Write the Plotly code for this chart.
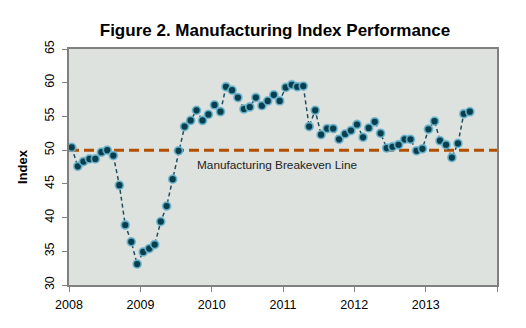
import plotly.graph_objects as go
import pandas as pd

# Monthly manufacturing index, Jan 2008 - Aug 2013
index_values = [
    50.4, 47.6, 48.3, 48.7, 48.7, 49.7, 50.0, 49.2, 44.8, 38.9, 36.4, 33.1,   # 2008
    34.9, 35.4, 36.0, 39.4, 41.7, 45.7, 49.9, 53.5, 54.4, 55.9, 54.4, 55.3,   # 2009
    56.7, 55.7, 59.4, 58.9, 57.8, 56.1, 56.4, 57.8, 56.6, 57.3, 58.2, 57.3,   # 2010
    59.3, 59.7, 59.4, 59.5, 53.5, 55.9, 52.3, 53.2, 53.2, 51.6, 52.4, 52.9,   # 2011
    53.8, 51.9, 53.3, 54.2, 52.5, 50.3, 50.5, 50.8, 51.6, 51.6, 49.9, 50.2,   # 2012
    53.1, 54.3, 51.4, 50.8, 48.9, 51.0, 55.4, 55.7,                           # 2013
]
months = pd.date_range("2008-01-01", periods=len(index_values), freq="MS") + pd.Timedelta(days=14)

breakeven_value = 50
breakeven_x = ["2008-01-01", "2014-01-01"]
breakeven_label = "Manufacturing Breakeven Line"

year_ticks = ["2008-01-01", "2009-01-01", "2010-01-01", "2011-01-01", "2012-01-01", "2013-01-01", "2014-01-01"]
year_labels = ["2008", "2009", "2010", "2011", "2012", "2013", ""]
y_ticks = [30, 35, 40, 45, 50, 55, 60, 65]

fig = go.Figure()

fig.add_trace(go.Scatter(
    x=breakeven_x, y=[breakeven_value] * 2, mode="lines",
    line=dict(color="#B34F00", width=3, dash="10px,5px"),
    hoverinfo="skip", showlegend=False,
))

fig.add_trace(go.Scatter(
    x=months, y=index_values, mode="lines+markers",
    line=dict(color="#1D4F5E", width=1.5, dash="4px,3px"),
    marker=dict(size=8, color="#073F4E", line=dict(color="rgba(110,185,210,0.85)", width=1.8)),
    showlegend=False,
))

fig.add_annotation(
    x="2009-10-06", y=47.8, xref="x", yref="y", text=breakeven_label,
    showarrow=False, xanchor="left", yanchor="middle",
    font=dict(family="Arial, Liberation Sans", size=11.8, color="#222222"),
)

fig.add_annotation(
    x=(22 - 69) / 428, y=0.5, xref="paper", yref="paper",
    text="<b>Index</b>", showarrow=False, textangle=-90,
    xanchor="center", yanchor="middle",
    font=dict(family="Arial, Liberation Sans", size=13, color="#000000"),
)

fig.update_layout(
    width=526, height=328,
    margin=dict(l=69, r=29, t=49, b=43),
    paper_bgcolor="white", plot_bgcolor="#DEE2DF",
    title=dict(
        text="<b>Figure 2. Manufacturing Index Performance</b>",
        x=275 / 526, xanchor="center", y=1 - 30 / 328, yanchor="middle",
        font=dict(family="Arial, Liberation Sans", size=17, color="#000000"),
    ),
    xaxis=dict(
        type="date", range=["2008-01-01", "2014-01-01"],
        tickvals=year_ticks, ticktext=year_labels,
        showgrid=False, zeroline=False,
        showline=True, linecolor="#808080", linewidth=2, mirror=True,
        ticks="outside", ticklen=5, tickcolor="#808080", tickwidth=1,
        ticklabelstandoff=2,
        tickfont=dict(family="Arial, Liberation Sans", size=12.5, color="#000000"),
    ),
    yaxis=dict(
        range=[30, 65], tickvals=y_ticks,
        showgrid=False, zeroline=False,
        showline=True, linecolor="#808080", linewidth=2, mirror=True,
        ticks="outside", ticklen=5, tickcolor="#808080", tickwidth=1,
        tickangle=-90, ticklabelstandoff=3,
        tickfont=dict(family="Arial, Liberation Sans", size=12.5, color="#000000"),
    ),
)

fig.write_html("out.html")
